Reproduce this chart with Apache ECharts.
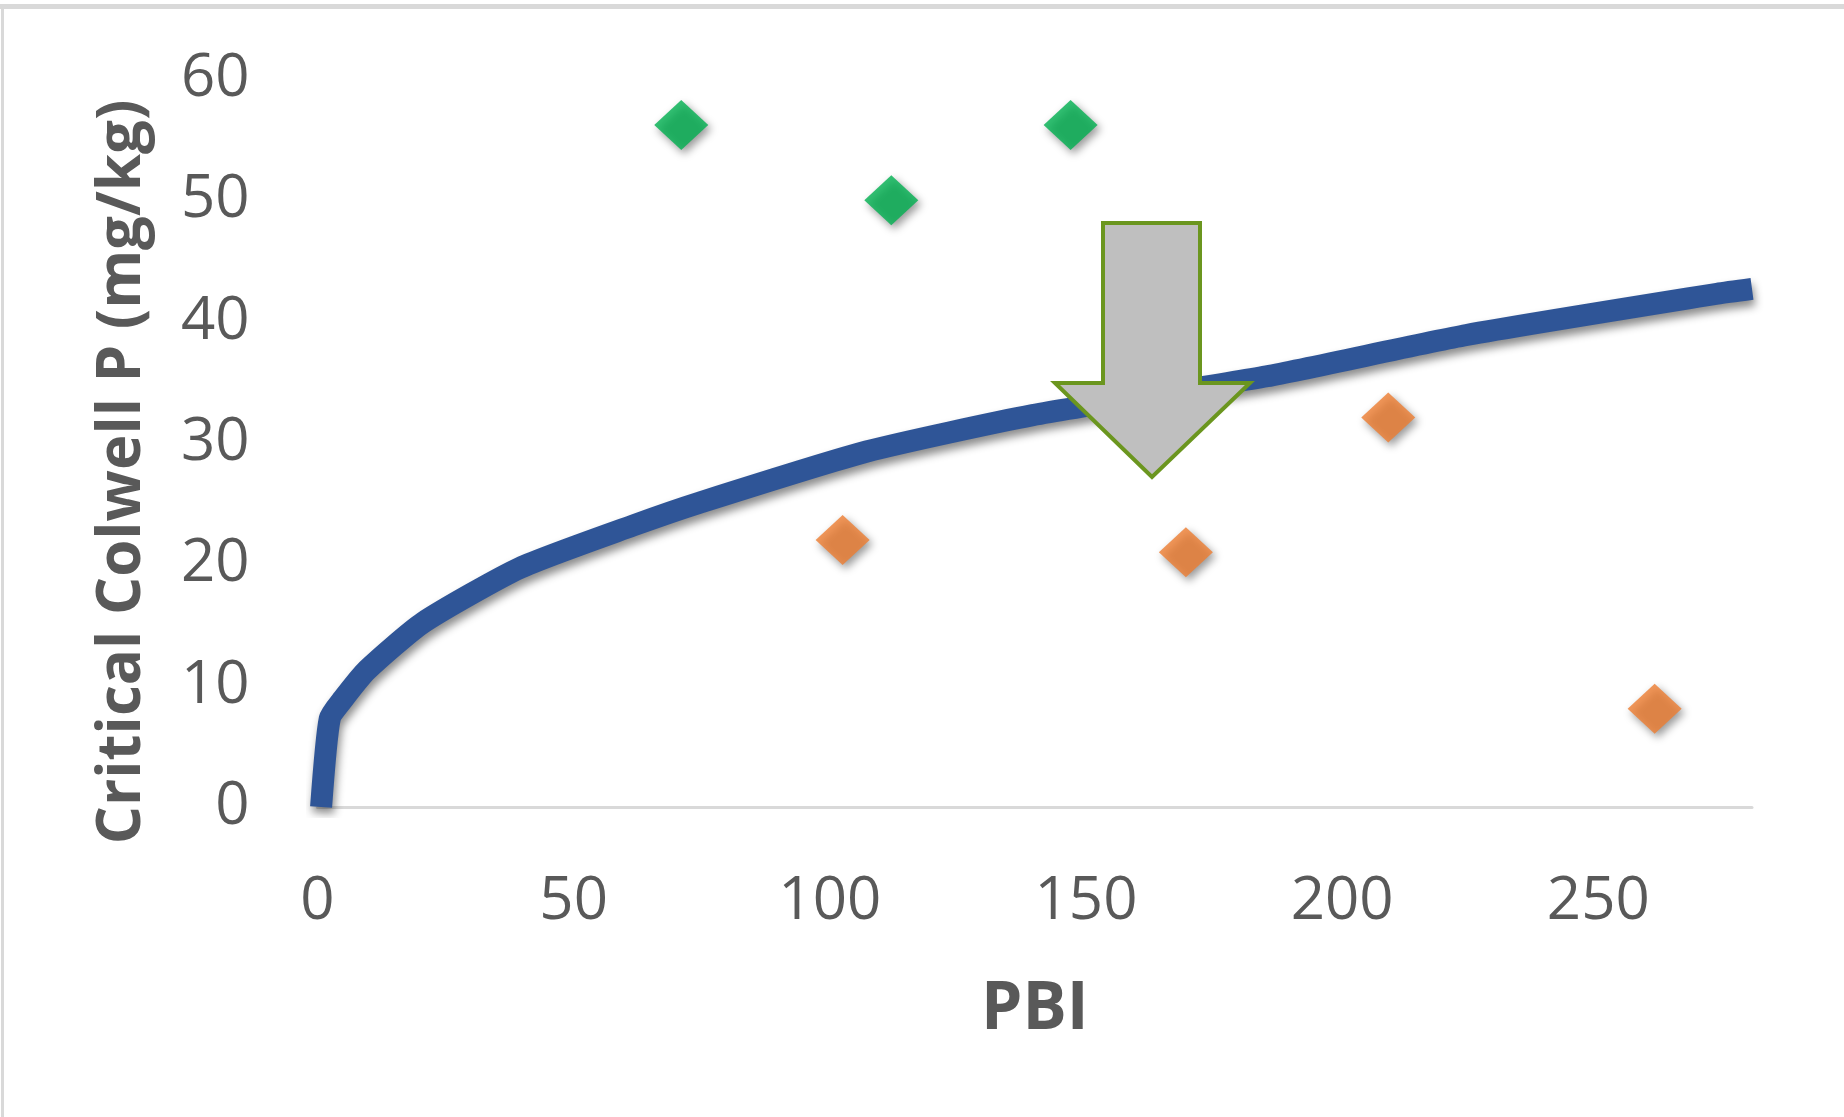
<!DOCTYPE html>
<html>
<head>
<meta charset="utf-8">
<script src="https://cdn.jsdelivr.net/npm/echarts@6/dist/echarts.min.js"></script>
<style>
html,body{margin:0;padding:0;background:#fff;}
#chart{width:1844px;height:1117px;}
</style>
</head>
<body>
<div id="chart"></div>
<script>
// Curve (critical Colwell P vs PBI)
const curveX = [0.7, 2.4, 5, 9.7, 20.6, 39.5, 61.6, 74.7, 107.2, 139.6, 185.3, 224.3, 273.2, 280];
const curveY = [0, 7.3, 8.9, 11.3, 15.2, 19.7, 23.2, 25.1, 29.3, 32.3, 35.5, 38.9, 42.3, 42.7];
// Green points (above curve)
const greenX = [71, 112, 147];
const greenY = [56.2, 50.0, 56.2];
// Orange points (below curve)
const orangeX = [102.5, 169.5, 209, 261];
const orangeY = [22.0, 21.0, 32.1, 8.1];
// Axis ticks
const xMin = 0, xMax = 280, xStep = 50;
const yMin = 0, yMax = 60, yStep = 10;
const xTitle = 'PBI';
const yTitle = 'Critical Colwell P (mg/kg)';

const zip = (a, b) => a.map((v, i) => [v, b[i]]);
const FONT = "'Open Sans', 'Noto Sans', sans-serif";
const TXT = '#595959';

const chart = echarts.init(document.getElementById('chart'));
const markerShadow = {shadowColor: 'rgba(0,0,0,0.5)', shadowBlur: 8, shadowOffsetX: 3, shadowOffsetY: 4};

chart.setOption({
  backgroundColor: '#ffffff',
  animation: false,
  grid: {left: 317.5, right: 92, top: 79, bottom: 310, containLabel: false},
  xAxis: {
    type: 'value', min: xMin, max: xMax, interval: xStep,
    name: xTitle, nameLocation: 'middle', nameGap: 170,
    nameTextStyle: {fontFamily: FONT, fontWeight: 'bold', fontSize: 66, color: TXT},
    axisLine: {show: true, lineStyle: {color: '#d9d9d9', width: 3}},
    axisTick: {show: false},
    splitLine: {show: false},
    axisLabel: {margin: 65, fontFamily: FONT, fontSize: 60, color: TXT,
      formatter: v => (v % xStep === 0 ? String(v) : '')}
  },
  yAxis: {
    type: 'value', min: yMin, max: yMax, interval: yStep,
    axisLine: {show: false}, axisTick: {show: false}, splitLine: {show: false},
    axisLabel: {margin: 68, fontFamily: FONT, fontSize: 60, color: TXT}
  },
  graphic: [
    {type: 'rect', shape: {x: 0, y: 4, width: 1844, height: 5}, style: {fill: '#d9d9d9'}, silent: true},
    {type: 'rect', shape: {x: 1, y: 4, width: 3, height: 1113}, style: {fill: '#d9d9d9'}, silent: true},
    {type: 'text', x: 123, y: 472, rotation: Math.PI / 2,
      style: {text: yTitle, fontFamily: FONT, fontWeight: 'bold', fontSize: 60, fill: TXT,
        textAlign: 'center', textVerticalAlign: 'middle'}},
    {type: 'polygon', z: 100,
      shape: {points: [[1103, 223], [1200, 223], [1200, 383], [1250, 383], [1152, 477], [1055, 383], [1103, 383]]},
      style: {fill: '#bfbfbf', stroke: '#6b961f', lineWidth: 4, lineJoin: 'miter'}}
  ],
  series: [
    {
      type: 'line', data: zip(curveX, curveY), showSymbol: false, smooth: 0.2, z: 2,
      lineStyle: {color: '#2f5597', width: 22, cap: 'butt', join: 'round',
        shadowColor: 'rgba(0,0,0,0.45)', shadowBlur: 9, shadowOffsetX: 2, shadowOffsetY: 6}
    },
    {
      type: 'scatter', data: zip(greenX, greenY), symbol: 'diamond', symbolSize: [54, 50], z: 3,
      itemStyle: Object.assign({color: '#00b050'}, markerShadow)
    },
    {
      type: 'scatter', data: zip(orangeX, orangeY), symbol: 'diamond', symbolSize: [54, 50], z: 3,
      itemStyle: Object.assign({color: '#ed7d31'}, markerShadow)
    }
  ]
});
</script>
</body>
</html>
